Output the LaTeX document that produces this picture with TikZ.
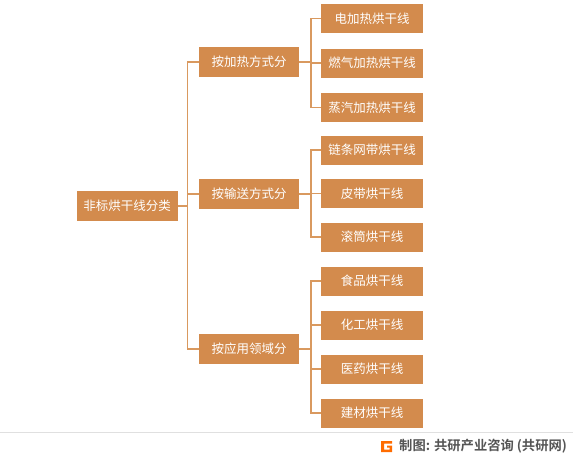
\documentclass[tikz,border=0pt]{standalone}
\usepackage{fontspec}
\setmainfont{Noto Sans CJK SC}
\newfontfamily\cjkbold[BoldFont={Noto Sans CJK SC Bold}]{Noto Sans CJK SC}
\definecolor{boxc}{HTML}{D38B4D}
\definecolor{linec}{HTML}{D9995F}
\definecolor{foot}{HTML}{555555}
\begin{document}
\begin{tikzpicture}[x=1pt,y=-1pt,
  box/.style={draw=none,fill=boxc,text=white,font=\fontsize{12.5}{14}\selectfont,inner sep=0pt,anchor=center},
  rootbox/.style={box,minimum width=101pt,minimum height=30pt},
  midbox/.style={box,minimum width=100pt,minimum height=30pt},
  leafbox/.style={box,minimum width=102pt,minimum height=29pt},
  conn/.style={draw=linec,line width=1.2pt}]
\useasboundingbox (0,0) rectangle (573,458);
\fill[white] (0,0) rectangle (573,458);
% root
\node[rootbox] (root) at (127,206) {非标烘干线分类};
% mid
\node[midbox] (m1) at (249,62) {按加热方式分};
\node[midbox] (m2) at (249,194) {按输送方式分};
\node[midbox] (m3) at (249,349) {按应用领域分};
% leaves
\node[leafbox] (l1) at (372,18.5) {电加热烘干线};
\node[leafbox] (l2) at (372,63) {燃气加热烘干线};
\node[leafbox] (l3) at (372,107.5) {蒸汽加热烘干线};
\node[leafbox] (l4) at (372,150) {链条网带烘干线};
\node[leafbox] (l5) at (372,193.5) {皮带烘干线};
\node[leafbox] (l6) at (372,237) {滚筒烘干线};
\node[leafbox] (l7) at (372,281) {食品烘干线};
\node[leafbox] (l8) at (372,325) {化工烘干线};
\node[leafbox] (l9) at (372,369) {医药烘干线};
\node[leafbox] (l10) at (372,413) {建材烘干线};
% root connectors
\coordinate (rj) at (187.5,206);
\draw[conn] (root.east) -- (rj);
\draw[conn] (m1.west) -- (187.5,62) -- (187.5,349) -- (m3.west);
\draw[conn] (m2.west) -- (187.5,194);
% group 1
\draw[conn] (m1.east) -- (311,62);
\draw[conn] (l1.west) -- (311,18.5) -- (311,107.5) -- (l3.west);
\draw[conn] (l2.west) -- (311,63);
% group 2
\draw[conn] (m2.east) -- (311,194);
\draw[conn] (l4.west) -- (311,150) -- (311,237) -- (l6.west);
\draw[conn] (l5.west) -- (311,193.5);
% group 3
\draw[conn] (m3.east) -- (311,349);
\draw[conn] (l7.west) -- (311,281) -- (311,413) -- (l10.west);
\draw[conn] (l8.west) -- (311,325);
\draw[conn] (l9.west) -- (311,369);
% footer
\draw[black!12,line width=0.8pt] (0,432) -- (573,432);
\fill[orange!85!red] (381,441) -- (392,441) -- (392,443.5) -- (384,443.5) -- (384,449.5) -- (389.5,449.5) -- (389.5,447.5) -- (387,447.5) -- (387,445.5) -- (392,445.5) -- (392,452) -- (381,452) -- cycle;
\node[anchor=west,text=foot,inner sep=0pt,font=\cjkbold\bfseries\fontsize{13.3}{15}\selectfont] (ft) at (399,446.5) {制图: 共研产业咨询 (共研网)};
\end{tikzpicture}
\end{document}
